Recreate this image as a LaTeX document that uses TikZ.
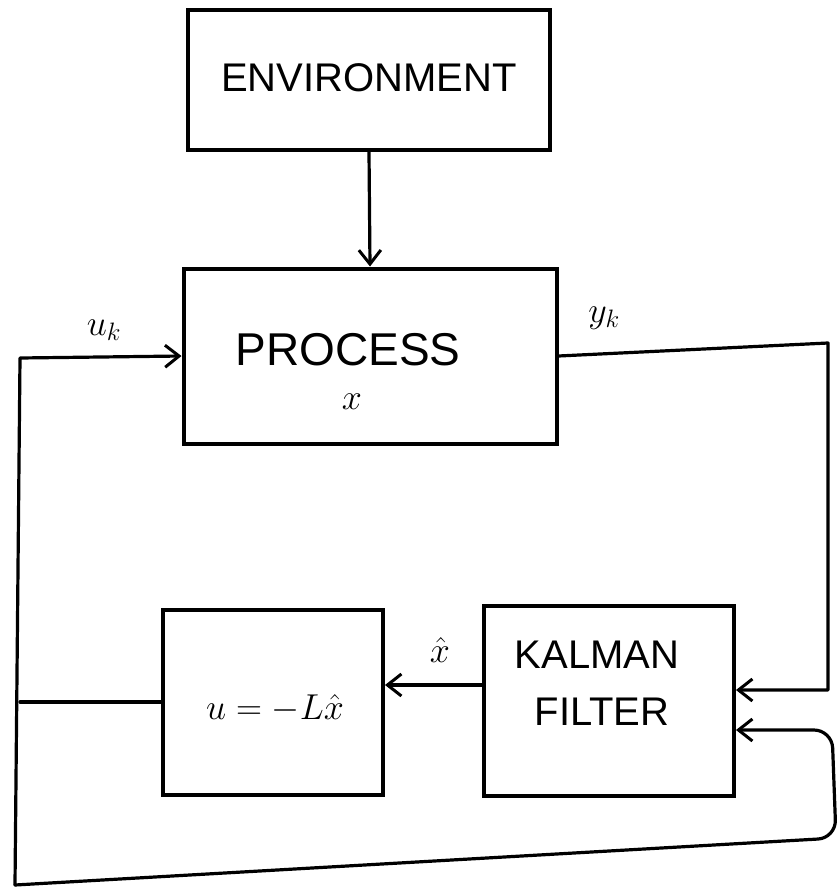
\RequirePackage{fix-cm}
\documentclass[tikz,border=0pt]{standalone}
\usepackage{fontspec}
\setmainfont{Liberation Sans}
\usetikzlibrary{arrows.meta}
\begin{document}
\begin{tikzpicture}[x=1pt,y=-1pt,
  box/.style={draw, line width=4pt, inner sep=0pt},
  wire/.style={line width=3.2pt, line cap=round, line join=round},
  arr/.style={wire, -{Straight Barb[length=14pt,width=22pt,line width=3pt]}},
  lbl/.style={font=\fontsize{40}{44}\selectfont, inner sep=0pt},
  mlbl/.style={font=\fontsize{36}{40}\selectfont, inner sep=0pt}]
\useasboundingbox (0,0) rectangle (837,894);
% boxes
\node[box, minimum width=362pt, minimum height=140pt] (ENV) at (369,80) {};
\node[box, minimum width=373pt, minimum height=175pt] (PROC) at (370,356) {};
\node[box, minimum width=220pt, minimum height=185pt] (CTRL) at (273,702) {};
\node[box, minimum width=250pt, minimum height=190pt] (KF) at (609,701) {};
% texts
\node[lbl] (tEnv) at (369,78) {ENVIRONMENT};
\node[lbl, font=\fontsize{46}{50}\selectfont] (tProc) at (348,350) {PROCESS};
\node[mlbl] (tX) at (352,402) {$x$};
\node[lbl] (tKal) at (597,655) {KALMAN};
\node[lbl] (tFil) at (602,712) {FILTER};
\node[mlbl] (tCtrl) at (275,708) {$u=-L\hat{x}$};
\node[mlbl] (tUk) at (104,330) {$u_k$};
\node[mlbl] (tYk) at (604,318) {$y_k$};
\node[mlbl] (tXh) at (440,650) {$\hat{x}$};
% coordinates
\coordinate (uTL) at (20,358);
\coordinate (bL) at (15,885);
\coordinate (bR) at (836,838);
\coordinate (uR) at (832,730);
\coordinate (yR) at (828,343);
\coordinate (yD) at (828,690);
% connectors
\draw[arr] (ENV.south) -- (PROC.north);
\draw[arr] (PROC.east) -- (yR) -- (yD) -- (yD -| KF.east);
\draw[arr] ([yshift=16pt]KF.west) -- ([yshift=16pt]KF.west -| CTRL.east);
\draw[arr] (bL) -- (uTL) -- (PROC.west);
\draw[wire] (CTRL.west) -- (CTRL.west -| uTL);
\draw[arr, rounded corners=18pt] (bL) -- (bR) -- (uR) -- (uR -| KF.east);
\end{tikzpicture}
\end{document}
